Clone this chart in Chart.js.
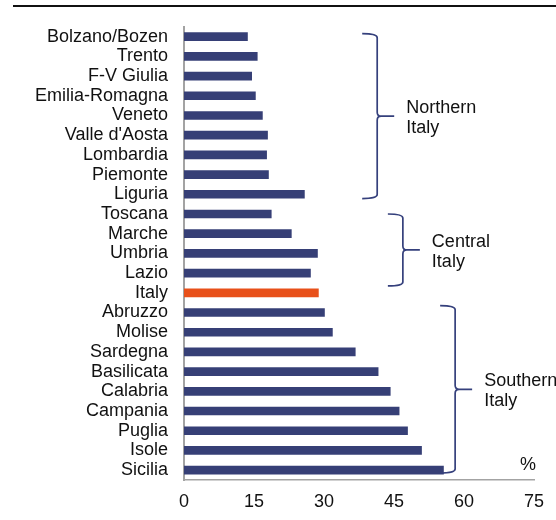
<!DOCTYPE html>
<html>
<head>
<meta charset="utf-8">
<script src="https://cdn.jsdelivr.net/npm/chart.js@4.4.0/dist/chart.umd.min.js"></script>
<style>
  html, body { margin: 0; padding: 0; background: #fff; }
  #wrap { width: 556px; height: 520px; }
</style>
</head>
<body>
<div id="wrap"><canvas id="regionChart" width="556" height="520"></canvas></div>
<script>
// ---- data ----
const regions = ['Bolzano/Bozen', 'Trento', 'F-V Giulia', 'Emilia-Romagna', 'Veneto',
  "Valle d'Aosta", 'Lombardia', 'Piemonte', 'Liguria', 'Toscana', 'Marche', 'Umbria',
  'Lazio', 'Italy', 'Abruzzo', 'Molise', 'Sardegna', 'Basilicata', 'Calabria',
  'Campania', 'Puglia', 'Isole', 'Sicilia'];
const shares = [13.6, 15.7, 14.5, 15.3, 16.8, 17.9, 17.7, 18.1, 25.8, 18.7, 23.0, 28.6,
  27.1, 28.8, 30.1, 31.8, 36.7, 41.6, 44.2, 46.1, 47.9, 50.9, 55.6];
const xTicks = [0, 15, 30, 45, 60, 75];

// groups: first/last category, brace position on the value axis
const groupNames = [['Northern', 'Italy'], ['Central', 'Italy'], ['Southern', 'Italy']];
const groupFrom = [-0.15, 9.0, 13.65];
const groupTo = [8.22, 12.65, 22.15];
const groupX = [41.4, 46.9, 58.1];

const NAVY = '#363f76';
const ORANGE = '#e8501a';
const FONT = "'Liberation Sans', Arial, sans-serif";

const barColors = regions.map(r => r === 'Italy' ? ORANGE : NAVY);

// braces, top rule and % sign
const extras = {
  id: 'extras',
  afterDraw(chart) {
    const c = chart.ctx;
    const x = chart.scales.x, y = chart.scales.y;
    c.save();
    // top rule
    c.strokeStyle = '#111';
    c.lineWidth = 2;
    c.beginPath();
    c.moveTo(13, 6);
    c.lineTo(556, 6);
    c.stroke();

    c.strokeStyle = '#35407c';
    c.lineWidth = 1.7;
    c.font = '18px ' + FONT;
    c.textBaseline = 'middle';
    c.textAlign = 'left';
    for (let i = 0; i < groupNames.length; i++) {
      const bx = x.getPixelForValue(groupX[i]);
      const top = y.getPixelForValue(groupFrom[i]);
      const bot = y.getPixelForValue(groupTo[i]);
      const mid = (top + bot) / 2;
      const r = 4, hook = 15, tip = 17;
      c.beginPath();
      c.moveTo(bx - hook, top);
      c.quadraticCurveTo(bx, top, bx, top + r);
      c.lineTo(bx, mid - r);
      c.quadraticCurveTo(bx, mid, bx + r, mid);
      c.lineTo(bx + tip, mid);
      c.moveTo(bx + r, mid);
      c.quadraticCurveTo(bx, mid, bx, mid + r);
      c.lineTo(bx, bot - r);
      c.quadraticCurveTo(bx, bot, bx - hook, bot);
      c.stroke();

      c.fillStyle = '#111';
      c.fillText(groupNames[i][0], bx + tip + 12, mid - 8);
      c.fillText(groupNames[i][1], bx + tip + 12, mid + 12);
    }

    c.textAlign = 'center';
    c.fillText('%', 528, 465);
    c.restore();
  }
};

const ctx = document.getElementById('regionChart').getContext('2d');

const chartData = {
  type: 'bar',
  data: {
    labels: regions,
    datasets: [{
      data: shares,
      backgroundColor: barColors,
      borderWidth: 0,
      barThickness: 8,
    }],
  },
  options: {
    indexAxis: 'y',
    responsive: false,
    animation: false,
    layout: { padding: { top: 26, right: 22, left: 0, bottom: 0 } },
    plugins: {
      legend: { display: false },
      tooltip: { enabled: false },
    },
    scales: {
      x: {
        min: 0,
        max: 75,
        afterBuildTicks: s => { s.ticks = xTicks.map(v => ({ value: v })); },
        grid: { display: false, drawTicks: false },
        border: { color: '#a3a3a3', width: 1.5 },
        ticks: { color: '#111', padding: 11, font: { family: FONT, size: 18 } },
        afterFit: s => { s.height = 40; },
      },
      y: {
        grid: { display: false, drawTicks: false },
        border: { color: '#a3a3a3', width: 2 },
        ticks: { color: '#111', padding: 16, autoSkip: false, font: { family: FONT, size: 18 } },
        afterFit: s => { s.width = 184; },
      },
    },
  },
  plugins: [extras],
};

const regionChart = new Chart(ctx, chartData);
</script>
</body>
</html>
